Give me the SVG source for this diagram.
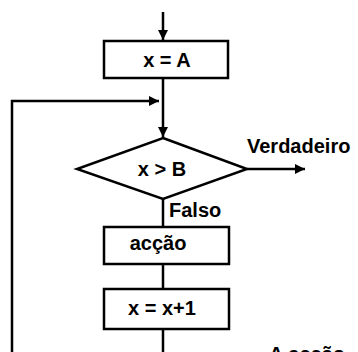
<svg xmlns="http://www.w3.org/2000/svg" width="358" height="352" viewBox="0 0 358 352">
  <style>
    .box { fill: #fff; stroke: #000; stroke-width: 2.5; }
    .wire { fill: none; stroke: #000; stroke-width: 2.5; }
    .lbl { font-family: "Liberation Sans", Arial, sans-serif; font-weight: bold; font-size: 20px; fill: #000; }
    .mid { text-anchor: middle; }
  </style>
  <defs>
    <marker id="arrow" viewBox="0 0 10 10" refX="10" refY="5" markerWidth="4" markerHeight="4" markerUnits="strokeWidth" orient="auto">
      <path d="M0,0 L10,5 L0,10 z" fill="#000"/>
    </marker>
  </defs>
  <rect width="358" height="352" fill="#fff"/>

  <g id="connectors">
    <line class="wire" x1="163" y1="12" x2="163" y2="40" marker-end="url(#arrow)"/>
    <line class="wire" x1="163" y1="78" x2="163" y2="137" marker-end="url(#arrow)"/>
    <polyline class="wire" points="12,352 12,101 159,101" marker-end="url(#arrow)"/>
    <line class="wire" x1="247" y1="169" x2="305" y2="169" marker-end="url(#arrow)"/>
    <line class="wire" x1="163" y1="199" x2="163" y2="227"/>
    <line class="wire" x1="163" y1="264" x2="163" y2="289"/>
    <line class="wire" x1="163" y1="329" x2="163" y2="352"/>
  </g>

  <g id="init">
    <rect class="box" x="104" y="41" width="124" height="37"/>
    <text class="lbl mid" x="167" y="67">x = A</text>
  </g>

  <g id="decision">
    <polygon class="box" points="163,138 247,169 163,199 77,169"/>
    <text class="lbl mid" x="162" y="176">x &gt; B</text>
  </g>

  <g id="label-true">
    <text class="lbl" x="247" y="153">Verdadeiro</text>
  </g>

  <g id="label-false">
    <text class="lbl" x="169" y="217">Falso</text>
  </g>

  <g id="action">
    <rect class="box" x="104" y="227" width="125" height="37"/>
    <text class="lbl mid" x="158" y="250">acção</text>
  </g>

  <g id="increment">
    <rect class="box" x="104" y="289" width="125" height="40"/>
    <text class="lbl mid" x="162" y="315">x = x+1</text>
  </g>

  <g id="note">
    <text class="lbl" x="269" y="361">A acção</text>
  </g>
</svg>
